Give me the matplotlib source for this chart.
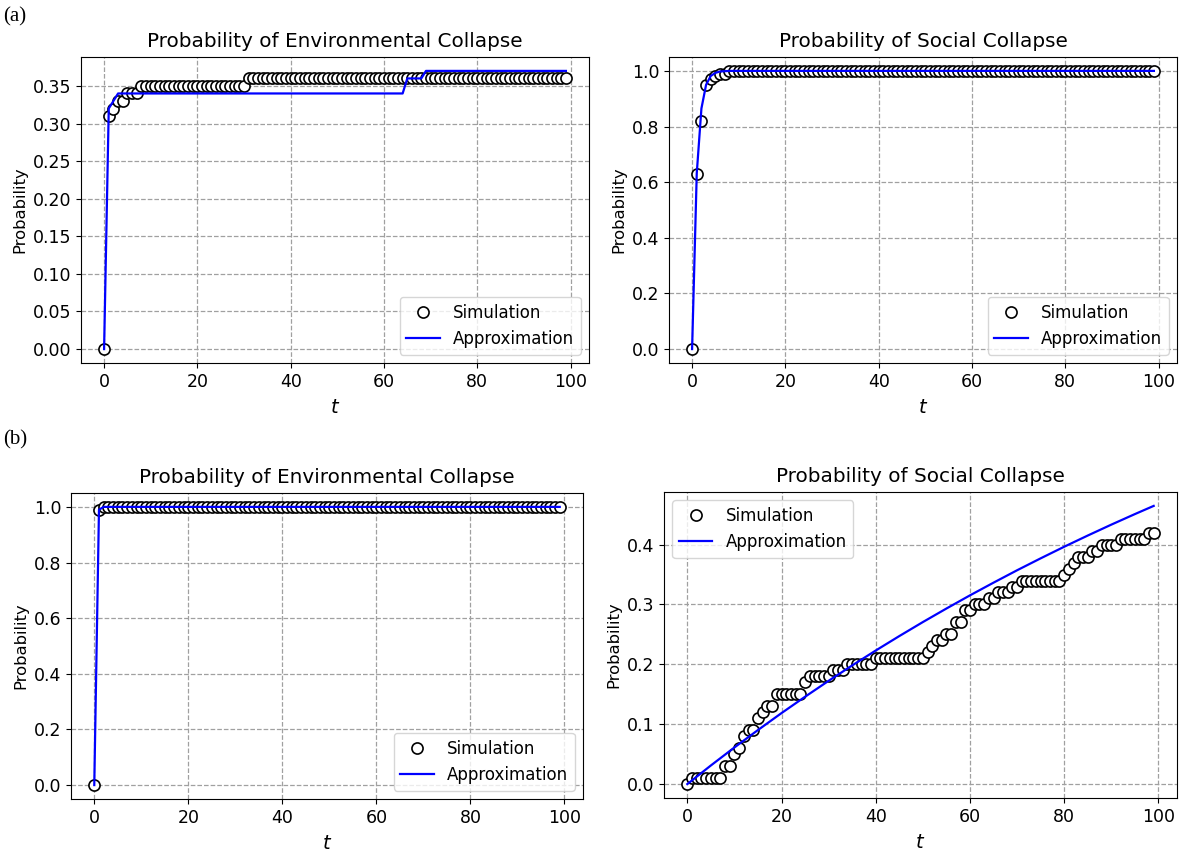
import matplotlib
matplotlib.use("Agg")
import matplotlib.pyplot as plt

# time steps
t = list(range(100))

# (a) environmental collapse
env_a_sim = [0, 0.31, 0.32, 0.33, 0.33, 0.34, 0.34, 0.34] + [0.35] * 23 + [0.36] * 69
env_a_approx = [0, 0.32, 0.33] + [0.34] * 62 + [0.36] * 4 + [0.37] * 31

# (a) social collapse
soc_a_sim = [0, 0.63, 0.82, 0.95, 0.97, 0.98, 0.99, 0.99] + [1.0] * 92
soc_a_approx = [0, 0.632, 0.865, 0.950, 0.982, 0.993, 0.998, 0.999] + [1.0] * 92

# (b) environmental collapse
env_b_sim = [0, 0.99] + [1.0] * 98
env_b_approx = [0, 0.99] + [1.0] * 98

# (b) social collapse
soc_b_sim = ([0] + [0.01] * 7
             + [0.03, 0.03, 0.05, 0.06, 0.08, 0.09, 0.09, 0.11, 0.12, 0.13, 0.13]
             + [0.15] * 6 + [0.17] + [0.18] * 5 + [0.19] * 3 + [0.20] * 6 + [0.21] * 11
             + [0.22, 0.23, 0.24, 0.24, 0.25, 0.25, 0.27, 0.27, 0.29, 0.29,
                0.30, 0.30, 0.30, 0.31, 0.31, 0.32, 0.32, 0.32, 0.33, 0.33]
             + [0.34] * 9 + [0.35, 0.36, 0.37] + [0.38] * 3 + [0.39] * 2
             + [0.40] * 4 + [0.41] * 6 + [0.42] * 2)
soc_b_approx_t = [0, 5, 10, 15, 20, 25, 30, 35, 40, 45, 50, 55, 60, 65, 70, 75, 80, 85, 90, 95, 99]
soc_b_approx = [0, 0.0311, 0.0612, 0.0903, 0.1186, 0.1459, 0.1725, 0.1982, 0.2231, 0.2472,
                0.2706, 0.2932, 0.3152, 0.3364, 0.3571, 0.3770, 0.3964, 0.4151, 0.4333,
                0.4509, 0.4646]

W, H = 1181, 857


def axes_at(fig, x0, y0, x1, y1):
    return fig.add_axes([x0 / W, 1 - y1 / H, (x1 - x0) / W, (y1 - y0) / H])


def panel(ax, title, sim, approx_t, approx, legend_loc):
    ax.plot(t, sim, 'o', markerfacecolor='white', markeredgecolor='black',
            markersize=8, markeredgewidth=1.2, label='Simulation')
    ax.plot(approx_t, approx, '-', color='blue', linewidth=1.6, label='Approximation')
    ax.set_title(title, fontsize=14.4, pad=7)
    ax.set_xlabel('$t$', fontsize=14, labelpad=5)
    ax.set_ylabel('Probability', fontsize=11.8)
    ax.set_xticks([0, 20, 40, 60, 80, 100])
    ax.tick_params(labelsize=12.5)
    ax.grid(True, linestyle='--', color='#a0a0a0', linewidth=0.9)
    ax.legend(loc=legend_loc, fontsize=12)


fig = plt.figure(figsize=(11.81, 8.57), dpi=100)

ax1 = axes_at(fig, 81, 57, 589, 363)
panel(ax1, 'Probability of Environmental Collapse', env_a_sim, t, env_a_approx, 'lower right')
ax1.set_yticks([0.0, 0.05, 0.10, 0.15, 0.20, 0.25, 0.30, 0.35])
ax1.yaxis.set_major_formatter(matplotlib.ticker.FormatStrFormatter('%.2f'))

ax2 = axes_at(fig, 669, 57, 1177, 363)
panel(ax2, 'Probability of Social Collapse', soc_a_sim, t, soc_a_approx, 'lower right')

ax3 = axes_at(fig, 71, 493, 583, 799)
panel(ax3, 'Probability of Environmental Collapse', env_b_sim, t, env_b_approx, 'lower right')

ax4 = axes_at(fig, 664, 492, 1177, 798)
panel(ax4, 'Probability of Social Collapse', soc_b_sim, soc_b_approx_t, soc_b_approx, 'upper left')

fig.text(3 / W, 1 - 17 / H, '(a)', fontsize=15, family='Liberation Serif', va='center')
fig.text(3 / W, 1 - 440 / H, '(b)', fontsize=15, family='Liberation Serif', va='center')

fig.savefig('out.png', dpi=100)
